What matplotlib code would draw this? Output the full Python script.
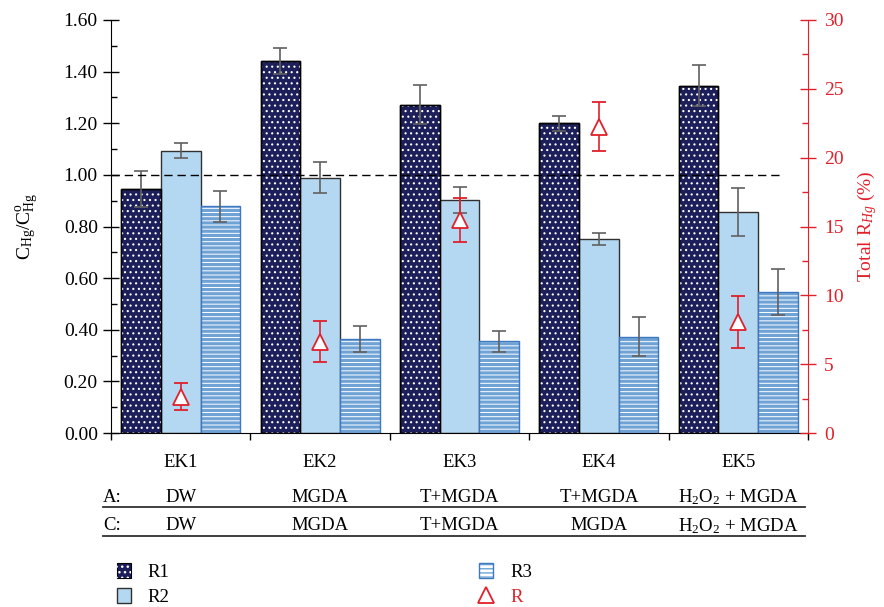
import numpy as np
import matplotlib
matplotlib.use("Agg")
import matplotlib.pyplot as plt
from matplotlib.patches import Patch
from matplotlib.lines import Line2D
from matplotlib.legend_handler import HandlerTuple

# data
groups = ["EK1", "EK2", "EK3", "EK4", "EK5"]
anode = ["DW", "MGDA", "T+MGDA", "T+MGDA", r"H$_2$O$_2$ + MGDA"]
cathode = ["DW", "MGDA", "T+MGDA", "MGDA", r"H$_2$O$_2$ + MGDA"]

r1 = [0.945, 1.441, 1.272, 1.200, 1.345]
r1_err = [0.07, 0.05, 0.075, 0.03, 0.08]
r2 = [1.094, 0.988, 0.903, 0.753, 0.857]
r2_err = [0.03, 0.06, 0.05, 0.023, 0.092]
r3 = [0.878, 0.365, 0.355, 0.373, 0.547]
r3_err = [0.06, 0.05, 0.04, 0.076, 0.09]
r_tot = [2.64, 6.63, 15.47, 22.25, 8.08]
r_tot_err = [1.0, 1.5, 1.6, 1.8, 1.87]

plt.rcParams['font.family'] = ['Liberation Serif', 'DejaVu Serif']
plt.rcParams['mathtext.fontset'] = 'custom'
plt.rcParams['mathtext.rm'] = 'Liberation Serif'
plt.rcParams['mathtext.it'] = 'Liberation Serif:italic'

NAVY = '#1c1f5a'
LBLUE = '#b4d8f1'
STRIPE = '#6fa3d6'
RED = '#e0202a'
GREY = '#606060'
DOT_LW = 0.8
STRIPE_LW = 2.3


def hatch_lw(artists, lw):
    # per-artist hatch width where the patch supports it
    for a in artists:
        if hasattr(a, 'set_hatch_linewidth'):
            a.set_hatch_linewidth(lw)


fig = plt.figure(figsize=(8.84, 6.07), dpi=100)
ax = fig.add_axes([111 / 884, 1 - 433 / 607, 697 / 884, 413 / 607])
ax2 = ax.twinx()

x = np.arange(len(groups))
w = 0.285
xs = [x + 0.215, x + 0.5, x + 0.785]

# R1: navy with white dots
ax.bar(xs[0], r1, w, color=NAVY, edgecolor='black', linewidth=1.0, zorder=2)
with plt.rc_context({'hatch.linewidth': DOT_LW}):
    dots = ax.bar(xs[0], r1, w, facecolor='none', edgecolor='white', hatch='...',
                  linewidth=0, zorder=2.1)
hatch_lw(dots, DOT_LW)
ax.bar(xs[0], r1, w, facecolor='none', edgecolor='black', linewidth=1.0, zorder=2.2)
# R2: plain light blue
ax.bar(xs[1], r2, w, color=LBLUE, edgecolor='#303030', linewidth=1.0, zorder=2)
# R3: white with blue stripes
with plt.rc_context({'hatch.linewidth': STRIPE_LW}):
    stripes = ax.bar(xs[2], r3, w, color='white', edgecolor=STRIPE, hatch='----',
                     linewidth=0, zorder=2)
hatch_lw(stripes, STRIPE_LW)
ax.bar(xs[2], r3, w, facecolor='none', edgecolor='#3d78c0', linewidth=1.0, zorder=2.2)

for xx, yy, ee in zip(xs, [r1, r2, r3], [r1_err, r2_err, r3_err]):
    ax.errorbar(xx, yy, yerr=ee, fmt='none', ecolor=GREY, elinewidth=1.2,
                capsize=5, capthick=1.2, zorder=3)

ax.hlines(1.0, 0, 4.8, colors='black', linestyles=(0, (6, 3.5)), linewidth=1.0, zorder=4)

ax.set_xlim(0, 5)
ax.set_ylim(0, 1.6)
ax.set_yticks(np.arange(0, 1.61, 0.2))
ax.set_yticklabels([f"{v:.2f}" for v in np.arange(0, 1.61, 0.2)])
ax.set_yticks(np.arange(0.1, 1.6, 0.2), minor=True)
ax.tick_params(axis='y', which='major', direction='inout', length=11, width=1.0,
               labelsize=14, pad=4)
ax.tick_params(axis='y', which='minor', direction='in', length=4.5, width=1.0)
ax.set_xticks(x + 0.5)
ax.set_xticklabels(groups)
ax.set_xticks(np.arange(0, 6), minor=True)
ax.tick_params(axis='x', which='major', length=0, labelsize=13.5, pad=15)
ax.tick_params(axis='x', which='minor', direction='out', length=5, width=1.0)
ax.spines['top'].set_visible(False)
ax.spines['right'].set_visible(False)
ax.set_ylabel(r'C$_{\mathrm{Hg}}$/C$^{\mathrm{o}}_{\mathrm{Hg}}$', fontsize=14, labelpad=16)

# total removal on right axis
ax2.errorbar(x + 0.5, r_tot, yerr=r_tot_err, fmt='^', color=RED, mfc='white', mec=RED,
             ms=12, mew=1.3, ecolor=RED, elinewidth=1.2, capsize=5, capthick=1.2, zorder=5)
ax2.set_ylim(0, 30)
ax2.set_yticks(np.arange(0, 31, 5))
ax2.set_yticks(np.arange(2.5, 30, 5), minor=True)
ax2.tick_params(axis='y', which='major', direction='inout', length=11, width=1.0,
                colors=RED, labelsize=14, pad=6)
ax2.tick_params(axis='y', which='minor', direction='in', length=4.5, width=1.0, colors=RED)
for s in ['top', 'left', 'bottom']:
    ax2.spines[s].set_visible(False)
ax2.spines['right'].set_color(RED)
ax2.set_ylabel(r'Total R$_{\mathit{Hg}}$ (%)', color=RED, fontsize=14, labelpad=8)

# electrolyte rows under the axis
tr = ax.get_xaxis_transform()
ax.text(-0.057, -0.155, "A:", transform=tr, ha='left', va='center', fontsize=13.5)
ax.text(-0.057, -0.225, "C:", transform=tr, ha='left', va='center', fontsize=13.5)
for i in range(len(groups)):
    ax.text(i + 0.5, -0.155, anode[i], transform=tr, ha='center', va='center', fontsize=13.5)
    ax.text(i + 0.5, -0.225, cathode[i], transform=tr, ha='center', va='center', fontsize=13.5)
for yy in [-0.179, -0.249]:
    ax.plot([-0.057, 4.975], [yy, yy], transform=tr, color='#303030', lw=1.3, clip_on=False)

# legend
h1 = (Patch(facecolor=NAVY, edgecolor='black', lw=0.8),
      Patch(facecolor='none', edgecolor='white', hatch='...', lw=0))
h2 = Patch(facecolor=LBLUE, edgecolor='#303030', lw=1.0)
h3 = (Patch(facecolor='white', edgecolor=STRIPE, hatch='----', lw=0),
      Patch(facecolor='none', edgecolor='#3d78c0', lw=1.0))
h4 = Line2D([], [], marker='^', ls='none', color=RED, mfc='white', mec=RED, ms=11, mew=1.3)
hatch_lw([h1[1]], DOT_LW)
hatch_lw([h3[0]], STRIPE_LW)
leg = fig.legend([h1, h2, h3, h4], ["R1", "R2", "R3", "R"], ncol=2, loc='upper left',
                 bbox_to_anchor=(100 / 884, 1 - 546 / 607), frameon=False, fontsize=13.5,
                 handlelength=0.75, handleheight=0.9, handletextpad=0.9,
                 columnspacing=16.5, labelspacing=0.35,
                 handler_map={tuple: HandlerTuple(ndivide=1, pad=0)})
leg.get_texts()[3].set_color(RED)

fig.savefig("out.png", dpi=100)
